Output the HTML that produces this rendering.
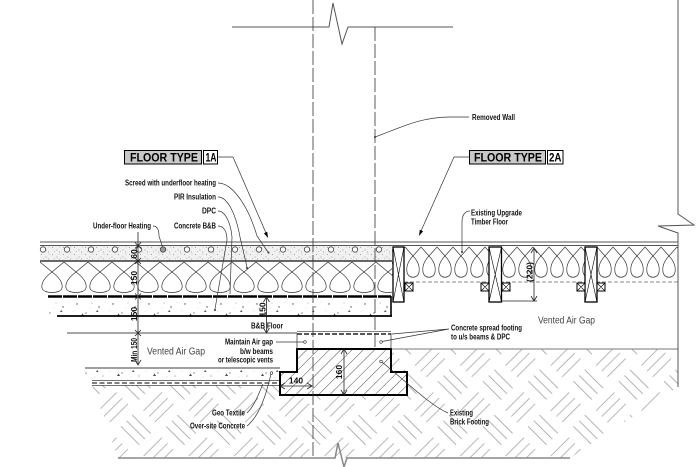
<!DOCTYPE html>
<html><head><meta charset="utf-8">
<style>
html,body{margin:0;padding:0;background:#fff;}
svg{display:block;}
text{font-family:"Liberation Sans",Arial,sans-serif;}
.l{font-size:8px;font-weight:bold;fill:#111;}
.d{font-size:8.5px;font-weight:bold;fill:#111;}
.ld{fill:none;stroke:#333;stroke-width:0.7;}
</style></head><body>
<svg width="700" height="467" viewBox="0 0 700 467" xmlns="http://www.w3.org/2000/svg">
<defs>
<pattern id="earth" width="64" height="64" patternUnits="userSpaceOnUse" patternTransform="rotate(45)">
 <path d="M3,8H29M3,16H29M3,24H29 M35,40H61M35,48H61M35,56H61 M40,3V29M48,3V29M56,3V29 M8,35V61M16,35V61M24,35V61" stroke="#9a9a9a" stroke-width="0.7" fill="none"/>
</pattern>
<pattern id="fh" width="8" height="8" patternUnits="userSpaceOnUse" patternTransform="rotate(45)">
 <path d="M0,0V8" stroke="#222" stroke-width="0.8"/>
</pattern>
<pattern id="scr" x="40" y="246" width="11" height="7" patternUnits="userSpaceOnUse">
 <rect width="11" height="7" fill="#f1f1f1"/>
 <g fill="#888"><circle cx="1.5" cy="1.5" r="0.5"/><circle cx="6" cy="4" r="0.5"/><circle cx="9" cy="1" r="0.4"/><circle cx="3.5" cy="5.5" r="0.4"/><circle cx="8.5" cy="6" r="0.45"/></g>
</pattern>
<pattern id="conc" width="36" height="20" patternUnits="userSpaceOnUse">
 <rect width="36" height="20" fill="#fff"/>
 <g fill="#444"><circle cx="5" cy="4" r="0.7"/><circle cx="14" cy="13" r="0.6"/><circle cx="27" cy="7" r="0.7"/><circle cx="31" cy="16" r="0.5"/><circle cx="20" cy="3" r="0.4"/><path d="M9,16 l1.5,-2.5 l1.5,2.5z"/><path d="M24,12 l1.2,-2 l1.4,1.8z"/></g>
 <g fill="#aaa"><circle cx="2" cy="11" r="0.4"/><circle cx="18" cy="8" r="0.4"/><circle cx="33" cy="2" r="0.4"/><circle cx="23" cy="17" r="0.4"/></g>
</pattern>
<pattern id="ins1" x="40" y="261" width="24" height="35" patternUnits="userSpaceOnUse">
 <path d="M0,1 L12,11 C20,17 23,22 22,27 C21,33 3,33 2,27 C1,22 4,17 12,11 L24,1" fill="none" stroke="#333" stroke-width="0.7"/>
</pattern>
<pattern id="ins2" x="405" y="246" width="16" height="36" patternUnits="userSpaceOnUse">
 <path d="M0,1 L8,10 C13,15 15,21 14,26 C13,33 3,33 2,26 C1,21 3,15 8,10 L16,1" fill="none" stroke="#333" stroke-width="0.7"/>
</pattern>
</defs>

<!-- soil hatch -->
<polygon points="92,385 280,385 280,372 297,372 297,349 678,349 678,387 570,458 118,458" fill="url(#earth)"/>
<line x1="391" y1="349" x2="678" y2="349" stroke="#777" stroke-width="1"/>

<!-- over-site concrete -->
<rect x="85" y="368" width="195" height="12" fill="url(#conc)"/>
<line x1="85" y1="368" x2="280" y2="368" stroke="#666" stroke-width="1.2"/>
<line x1="92" y1="380.5" x2="280" y2="380.5" stroke="#444" stroke-width="0.8"/>
<line x1="92" y1="383" x2="280" y2="383" stroke="#333" stroke-width="1.3" stroke-dasharray="5 2.5"/>
<line x1="92" y1="385.5" x2="280" y2="385.5" stroke="#444" stroke-width="0.8"/>

<!-- bottom line with break -->
<path d="M118,458 H335 L338,443 L344,467 L347,458 H570" fill="none" stroke="#888" stroke-width="1.5"/>

<!-- footing -->
<path d="M297,349 H391 V372 H407 V395 H280 V372 H297 Z" fill="#fff"/>
<path d="M297,349 H391 V372 H407 V395 H280 V372 H297 Z" fill="url(#fh)" stroke="#000" stroke-width="2"/>

<!-- concrete spread footing / DPC -->
<line x1="297" y1="331.5" x2="391" y2="331.5" stroke="#555" stroke-width="0.7"/>
<line x1="297" y1="334" x2="391" y2="334" stroke="#222" stroke-width="1.6" stroke-dasharray="5 2"/>
<line x1="297" y1="333" x2="297" y2="349" stroke="#444" stroke-width="0.8"/>
<line x1="391" y1="333" x2="391" y2="349" stroke="#444" stroke-width="0.8"/>

<!-- air gap top line -->
<line x1="67" y1="333" x2="297" y2="333" stroke="#888" stroke-width="1.5"/>

<!-- left floor -->
<line x1="40" y1="242" x2="678" y2="242" stroke="#555" stroke-width="0.9"/>
<line x1="40" y1="245.5" x2="678" y2="245.5" stroke="#555" stroke-width="0.9"/>
<rect x="40" y="246" width="352" height="15" fill="url(#scr)"/>
<g fill="#fff" stroke="#444" stroke-width="0.8">
<circle cx="43" cy="249.5" r="2.7"/><circle cx="67" cy="249.5" r="2.7"/><circle cx="91" cy="249.5" r="2.7"/><circle cx="115" cy="249.5" r="2.7"/><circle cx="139" cy="249.5" r="2.7"/><circle cx="163" cy="249.5" r="2.7" fill="#999"/><circle cx="187" cy="249.5" r="2.7"/><circle cx="211" cy="249.5" r="2.7"/><circle cx="235" cy="249.5" r="2.7"/><circle cx="259" cy="249.5" r="2.7"/><circle cx="283" cy="249.5" r="2.7"/><circle cx="307" cy="249.5" r="2.7"/><circle cx="331" cy="249.5" r="2.7"/><circle cx="355" cy="249.5" r="2.7"/><circle cx="379" cy="249.5" r="2.7"/>
</g>
<line x1="40" y1="261" x2="392" y2="261" stroke="#111" stroke-width="1.3"/>
<rect x="40" y="261.5" width="352" height="34.5" fill="url(#ins1)"/>
<rect x="48" y="297" width="343" height="19" fill="url(#conc)"/>
<line x1="48" y1="296.5" x2="391" y2="296.5" stroke="#000" stroke-width="2.4" stroke-dasharray="14 1"/>
<line x1="57" y1="316" x2="392" y2="316" stroke="#000" stroke-width="1.7"/>
<line x1="391" y1="296" x2="391" y2="316.5" stroke="#000" stroke-width="1.6"/>

<!-- right floor -->
<rect x="392" y="246" width="286" height="36" fill="url(#ins2)"/>
<line x1="404" y1="282" x2="678" y2="282" stroke="#666" stroke-width="0.7" stroke-dasharray="4 2"/>
<g fill="#fff" stroke="#000" stroke-width="1.3">
<rect x="393" y="247" width="11" height="55"/>
<rect x="489" y="247" width="12.5" height="55"/>
<rect x="585" y="247" width="12" height="55"/>
</g>
<g stroke="#000" stroke-width="0.6">
<path d="M393,247 L404,302 M404,247 L393,302"/>
<path d="M489,247 L501.5,302 M501.5,247 L489,302"/>
<path d="M585,247 L597,302 M597,247 L585,302"/>
</g>
<g fill="#fff" stroke="#000" stroke-width="1">
<rect x="405" y="283" width="8" height="8"/>
<rect x="481" y="283" width="8" height="8"/><rect x="502" y="283" width="8" height="8"/>
<rect x="577" y="283" width="8" height="8"/><rect x="597" y="283" width="8" height="8"/>
</g>
<g stroke="#000" stroke-width="0.6">
<path d="M405,283l8,8M413,283l-8,8 M481,283l8,8M489,283l-8,8 M502,283l8,8M510,283l-8,8 M577,283l8,8M585,283l-8,8 M597,283l8,8M605,283l-8,8"/>
</g>

<!-- right wall line with break -->
<path d="M678,0 V214 L694,225 L658,226 L678,233 V387" fill="none" stroke="#555" stroke-width="1"/>
<!-- top break line -->
<path d="M232,27 H329 L333,3 L342,44 L348,27 H453" fill="none" stroke="#555" stroke-width="1"/>

<!-- removed wall dashed -->
<line x1="313" y1="0" x2="313" y2="458" stroke="#333" stroke-width="0.8" stroke-dasharray="14 3"/>
<line x1="375" y1="27" x2="375" y2="349" stroke="#333" stroke-width="0.8" stroke-dasharray="14 3"/>

<!-- dimensions -->
<g stroke="#222" stroke-width="0.8" fill="none">
<line x1="138" y1="232" x2="138" y2="365"/>
<path d="M135,242.5l6,6M141,242.5l-6,6 M135,258l6,6M141,258l-6,6 M135,293.5l6,6M141,293.5l-6,6 M135,330l6,6M141,330l-6,6"/>
<path d="M135,360L138,365L141,360"/>
<line x1="266.5" y1="297" x2="266.5" y2="333"/>
<path d="M263.5,302L266.5,297L269.5,302 M263.5,328L266.5,333L269.5,328"/>
<line x1="534" y1="248" x2="534" y2="301"/>
<path d="M531,253L534,248L537,253 M531,296L534,301L537,296"/>
<line x1="502" y1="301" x2="537" y2="301"/>
<line x1="280" y1="386" x2="312" y2="386"/>
<path d="M285,383L280,386L285,389 M307,383L312,386L307,389"/>
<line x1="344" y1="349" x2="344" y2="395"/>
<path d="M341,354L344,349L347,354 M341,390L344,395L347,390"/>
</g>
<text class="d" transform="translate(137,254) rotate(-90)" text-anchor="middle">60</text>
<text class="d" transform="translate(137,278) rotate(-90)" text-anchor="middle">150</text>
<text class="d" transform="translate(137,314) rotate(-90)" text-anchor="middle">150</text>
<text class="d" transform="translate(137,350) rotate(-90)" text-anchor="middle" textLength="24" lengthAdjust="spacingAndGlyphs">Min 150</text>
<text class="d" transform="translate(265.5,309.5) rotate(-90)" text-anchor="middle">150</text>
<text class="d" transform="translate(532.5,272) rotate(-90)" text-anchor="middle" textLength="20" lengthAdjust="spacingAndGlyphs">(220)</text>
<text class="d" x="296" y="383.5" text-anchor="middle">140</text>
<text class="d" transform="translate(342,372) rotate(-90)" text-anchor="middle">160</text>

<!-- floor type tags -->
<rect x="124.5" y="150.5" width="77" height="13.5" fill="#c9c9c9" stroke="#000" stroke-width="1"/>
<text x="130" y="161.5" font-size="12" font-weight="bold" fill="#000" textLength="68" lengthAdjust="spacingAndGlyphs">FLOOR TYPE</text>
<rect x="203.5" y="150.5" width="14" height="13.5" fill="#fff" stroke="#000" stroke-width="1"/>
<text x="205.5" y="161.5" font-size="11.5" font-weight="bold" fill="#000" textLength="11" lengthAdjust="spacingAndGlyphs">1A</text>
<rect x="469.5" y="150.5" width="76" height="13.5" fill="#c9c9c9" stroke="#000" stroke-width="1"/>
<text x="474" y="161.5" font-size="12" font-weight="bold" fill="#000" textLength="68" lengthAdjust="spacingAndGlyphs">FLOOR TYPE</text>
<rect x="547.5" y="150.5" width="15.5" height="13.5" fill="#fff" stroke="#000" stroke-width="1"/>
<text x="549" y="161.5" font-size="11.5" font-weight="bold" fill="#000" textLength="12.5" lengthAdjust="spacingAndGlyphs">2A</text>
<path class="ld" d="M218,157 H233 L266,233"/>
<polygon points="268,238 267.3,231.8 263.9,233.2" fill="#000"/>
<path class="ld" d="M469,157 H454 L421,231"/>
<polygon points="419,236 423.1,231.2 419.8,229.8" fill="#000"/>

<!-- leaders -->
<path class="ld" d="M469,117 H450 C420,117 400,128 375,137"/>
<circle cx="375" cy="137" r="1" fill="#333"/>
<path class="ld" d="M218,183 C232,183 248,205 257,236 L268,252"/>
<circle cx="268.5" cy="252.5" r="1" fill="#333"/>
<path class="ld" d="M218,197 C228,197 236,215 240,237 L247,267"/>
<circle cx="247" cy="268" r="1" fill="#333"/>
<path class="ld" d="M218,211 C226,211 231,225 232,237 L230,294"/>
<path class="ld" d="M218,226 C224,226 227,232 227,240 L215,309"/>
<circle cx="215" cy="310" r="1" fill="#333"/>
<path class="ld" d="M153,226 C157,226 159,229 159,236 L162.5,247"/>
<path class="ld" d="M470,211 C465,211 462,215 462,222 L462,251"/>
<circle cx="462" cy="252" r="1" fill="#333"/>
<path class="ld" d="M276,342 H304"/>
<circle cx="305" cy="342" r="1.3" fill="none" stroke="#333" stroke-width="0.6"/>
<path class="ld" d="M449,329 L392,334 M449,329 L382,341.5"/>
<circle cx="381" cy="342" r="1.3" fill="none" stroke="#333" stroke-width="0.6"/>
<path class="ld" d="M448,413 C430,405 410,385 382,362"/>
<circle cx="381" cy="361.5" r="1.3" fill="none" stroke="#333" stroke-width="0.6"/>
<path class="ld" d="M247,413 C255,405 258,395 263,384"/>
<path class="ld" d="M247,426 C260,415 266,395 271,374"/>
<circle cx="271.5" cy="373" r="1.3" fill="none" stroke="#333" stroke-width="0.6"/>

<!-- labels -->
<text class="l" x="472" y="120" textLength="43" lengthAdjust="spacingAndGlyphs">Removed Wall</text>
<text class="l" x="125" y="185.5" textLength="91" lengthAdjust="spacingAndGlyphs">Screed with underfloor heating</text>
<text class="l" x="174" y="199.5" textLength="42" lengthAdjust="spacingAndGlyphs">PIR Insulation</text>
<text class="l" x="202" y="213.5" textLength="14" lengthAdjust="spacingAndGlyphs">DPC</text>
<text class="l" x="174" y="228.5" textLength="42" lengthAdjust="spacingAndGlyphs">Concrete B&amp;B</text>
<text class="l" x="93" y="228.5" textLength="58" lengthAdjust="spacingAndGlyphs">Under-floor Heating</text>
<text class="l" x="471" y="215.5" textLength="51" lengthAdjust="spacingAndGlyphs">Existing Upgrade</text>
<text class="l" x="471" y="224.5" textLength="37" lengthAdjust="spacingAndGlyphs">Timber Floor</text>
<text class="l" x="251" y="328.5" font-size="9" textLength="32" lengthAdjust="spacingAndGlyphs">B&amp;B Floor</text>
<text class="l" x="225" y="344.5" textLength="48" lengthAdjust="spacingAndGlyphs">Maintain Air gap</text>
<text class="l" x="240" y="354" textLength="33" lengthAdjust="spacingAndGlyphs">b/w beams</text>
<text class="l" x="218" y="362.5" textLength="55" lengthAdjust="spacingAndGlyphs">or telescopic vents</text>
<text class="l" x="451" y="330.5" textLength="71" lengthAdjust="spacingAndGlyphs">Concrete spread footing</text>
<text class="l" x="451" y="339.5" textLength="59" lengthAdjust="spacingAndGlyphs">to u/s beams &amp; DPC</text>
<text class="l" x="450" y="415.5" textLength="23" lengthAdjust="spacingAndGlyphs">Existing</text>
<text class="l" x="450" y="424.5" textLength="39" lengthAdjust="spacingAndGlyphs">Brick Footing</text>
<text class="l" x="212" y="415.5" textLength="33" lengthAdjust="spacingAndGlyphs">Geo Textile</text>
<text class="l" x="190" y="428.5" textLength="55" lengthAdjust="spacingAndGlyphs">Over-site Concrete</text>
<text x="147" y="354.5" font-size="10" fill="#444" textLength="58" lengthAdjust="spacingAndGlyphs">Vented Air Gap</text>
<text x="538" y="323.5" font-size="10" fill="#444" textLength="57" lengthAdjust="spacingAndGlyphs">Vented Air Gap</text>
</svg>
</body></html>
